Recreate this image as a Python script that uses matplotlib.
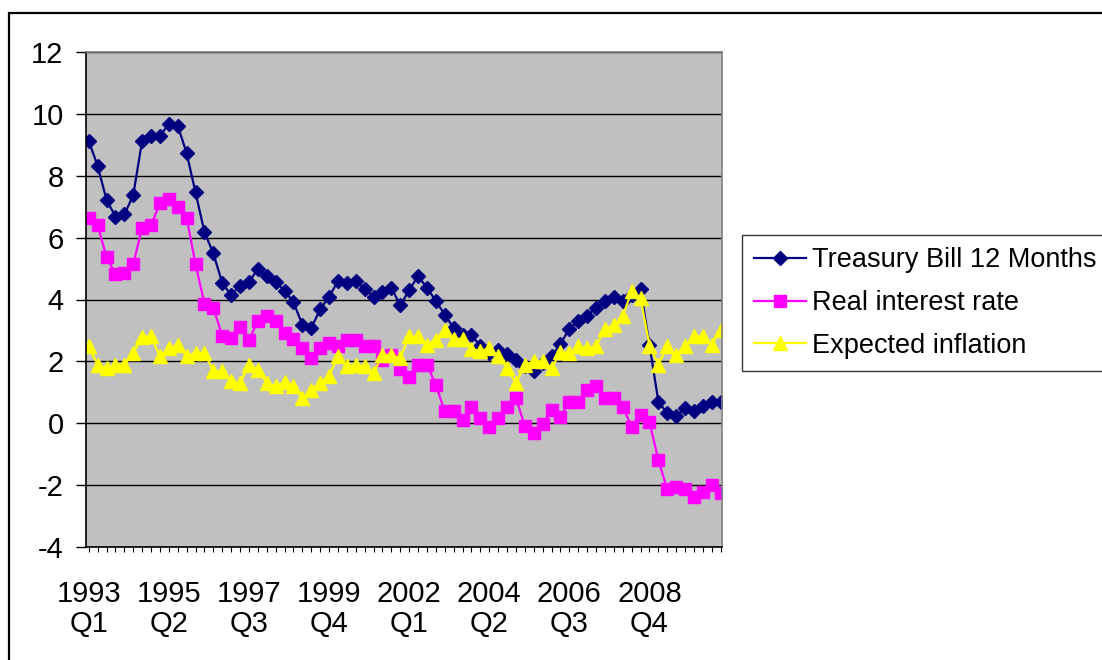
import numpy as np
import matplotlib
matplotlib.use("Agg")
import matplotlib.pyplot as plt
from matplotlib.patches import Rectangle

# --------- Data (quarterly, 1993 Q1 .. 2010 Q4) ---------
treasury_12m = [9.13, 8.32, 7.22, 6.68, 6.75, 7.37, 9.13, 9.30, 9.28, 9.68,
                9.62, 8.73, 7.46, 6.18, 5.49, 4.54, 4.14, 4.45, 4.56, 4.99,
                4.76, 4.56, 4.29, 3.91, 3.19, 3.08, 3.68, 4.09, 4.59, 4.54,
                4.59, 4.35, 4.09, 4.24, 4.38, 3.81, 4.30, 4.76, 4.38, 3.95,
                3.51, 3.08, 2.86, 2.86, 2.49, 2.27, 2.36, 2.25, 2.05, 1.85,
                1.68, 1.95, 2.16, 2.57, 3.05, 3.30, 3.48, 3.73, 3.95, 4.09,
                3.95, 4.15, 4.33, 2.54, 0.70, 0.32, 0.24, 0.49, 0.41, 0.56,
                0.70, 0.70]

real_rate = [6.65, 6.40, 5.38, 4.81, 4.86, 5.14, 6.32, 6.40, 7.11, 7.24,
             7.00, 6.65, 5.14, 3.87, 3.73, 2.83, 2.76, 3.10, 2.69, 3.30,
             3.48, 3.30, 2.92, 2.72, 2.43, 2.11, 2.43, 2.59, 2.49, 2.70,
             2.70, 2.51, 2.49, 2.05, 2.22, 1.76, 1.51, 1.89, 1.89, 1.24,
             0.38, 0.38, 0.11, 0.52, 0.16, -0.11, 0.16, 0.52, 0.81, -0.09,
             -0.32, -0.02, 0.43, 0.19, 0.70, 0.70, 1.08, 1.21, 0.81, 0.81,
             0.52, -0.11, 0.27, 0.05, -1.19, -2.14, -2.05, -2.11, -2.38, -2.22,
             -2.00, -2.27]

expected_inflation = [2.49, 1.89, 1.78, 1.89, 1.89, 2.27, 2.79, 2.81, 2.16, 2.43,
                      2.54, 2.16, 2.27, 2.27, 1.68, 1.68, 1.35, 1.30, 1.89, 1.73,
                      1.30, 1.19, 1.32, 1.19, 0.81, 1.08, 1.30, 1.54, 2.16, 1.84,
                      1.89, 1.84, 1.62, 2.22, 2.19, 2.11, 2.81, 2.81, 2.54, 2.70,
                      3.03, 2.73, 2.73, 2.41, 2.33, 2.43, 2.16, 1.78, 1.30, 1.89,
                      2.00, 2.00, 1.78, 2.30, 2.27, 2.49, 2.43, 2.49, 3.05, 3.16,
                      3.46, 4.27, 4.05, 2.51, 1.89, 2.49, 2.19, 2.49, 2.81, 2.81,
                      2.54, 3.03]

tick_labels = ["1993\nQ1", "1995\nQ2", "1997\nQ3", "1999\nQ4",
               "2002\nQ1", "2004\nQ2", "2006\nQ3", "2008\nQ4"]

# --------- Plot ---------
plt.rcParams['font.family'] = ['Liberation Sans', 'DejaVu Sans']
plt.rcParams['font.size'] = 21
plt.rcParams['axes.unicode_minus'] = False

fig = plt.figure(figsize=(11.02, 6.6), dpi=100)
ax = fig.add_axes([86.5 / 1102, 1 - 547 / 660, (722 - 86.5) / 1102, (547 - 52) / 660])
ax.set_facecolor("#C0C0C0")

x = np.arange(len(treasury_12m))
ax.plot(x, treasury_12m, color="#000080", lw=1.6, marker="D", ms=7,
        label="Treasury Bill 12 Months")
ax.plot(x, real_rate, color="#FF00FF", lw=1.6, marker="s", ms=9,
        label="Real interest rate")
ax.plot(x, expected_inflation, color="#FFFF00", lw=1.6, marker="^", ms=9.5,
        label="Expected inflation")

ax.set_ylim(-4, 12)
ax.set_yticks(range(-4, 13, 2))
ax.set_xlim(-0.25, len(x) - 0.85)
ax.set_xticks(range(0, len(x), 9))
ax.set_xticklabels(tick_labels, linespacing=1.1)
ax.set_xticks(range(len(x)), minor=True)

ax.grid(axis="y", color="black", lw=1)
ax.set_axisbelow(True)

for side in ("top", "right"):
    ax.spines[side].set_color("#808080")
    ax.spines[side].set_linewidth(1.2)
for side in ("left", "bottom"):
    ax.spines[side].set_color("black")
    ax.spines[side].set_linewidth(1.2)

ax.tick_params(axis="y", direction="out", length=7, width=1, pad=9.5)
ax.tick_params(axis="x", which="both", direction="out", length=3.5, width=0.8, pad=20)

leg = fig.legend(loc="upper left", bbox_to_anchor=(742 / 1102, 1 - 235 / 660),
                 frameon=True, fancybox=False, edgecolor="black", fontsize=19.5,
                 handlelength=1.9, handletextpad=0.25, borderpad=0.45,
                 labelspacing=0.62, borderaxespad=0)
leg.get_frame().set_linewidth(1.0)

# chart area border (runs off the right and bottom edges)
fig.patches.append(Rectangle((8.5 / 1102, -0.1), 1.2, 1.1 - 12.5 / 660,
                             transform=fig.transFigure, fill=False,
                             edgecolor="black", lw=1.6, clip_on=False))

fig.savefig("out.png", dpi=100, facecolor="white")
